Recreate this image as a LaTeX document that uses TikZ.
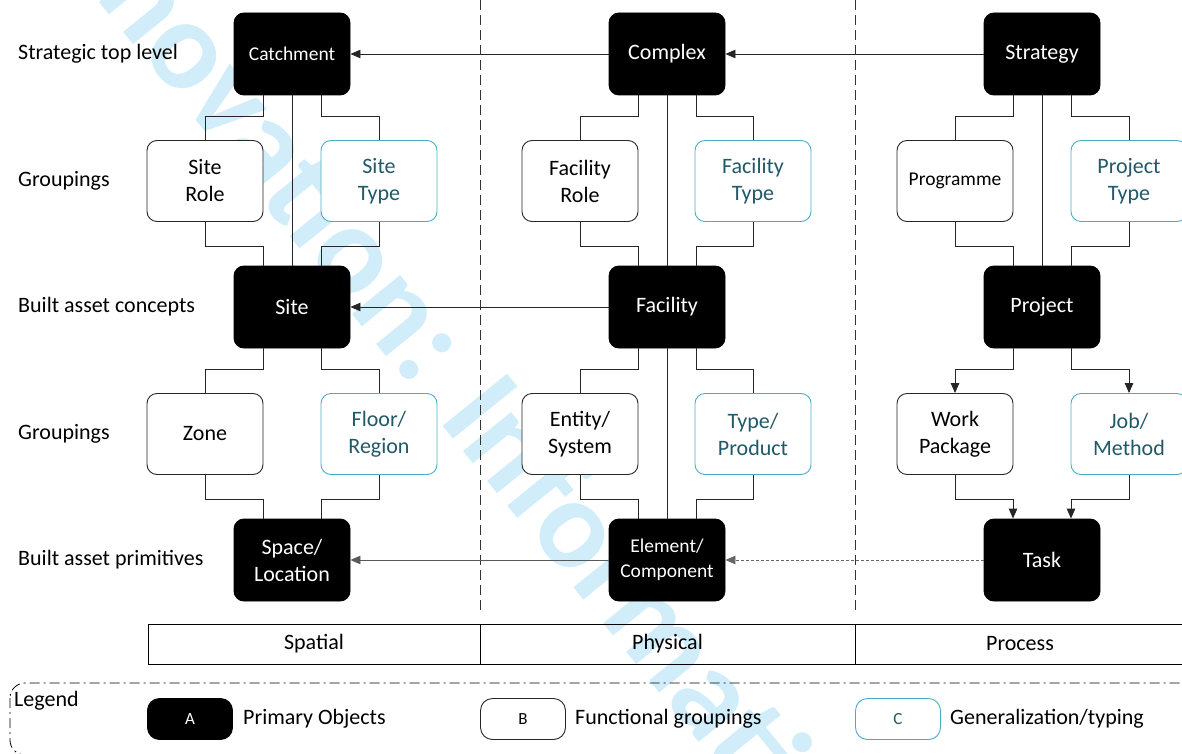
\documentclass[tikz,border=0pt]{standalone}
\usepackage{fontspec}
\setmainfont{Carlito}
\usetikzlibrary{arrows.meta}
\definecolor{genline}{RGB}{75,172,198}
\definecolor{gentext}{RGB}{33,89,104}
\definecolor{wmark}{RGB}{209,237,250}
\definecolor{conn}{RGB}{38,38,38}

\begin{document}
\begin{tikzpicture}[x=1pt, y=-1pt,
  font=\fontsize{22}{27}\selectfont,
  prim/.style={draw=black, fill=black, text=white, line width=0.9pt, rounded corners=10pt, minimum width=116pt, minimum height=82pt, align=center, inner sep=1pt},
  grp/.style={draw=black!85, fill=white, line width=0.9pt, rounded corners=10pt, minimum width=116pt, minimum height=81pt, align=center, inner sep=1pt},
  gen/.style={grp, draw=genline, text=gentext},
  small/.style={font=\fontsize{19.5}{25}\selectfont},
  legkey/.style={minimum width=85pt, minimum height=41pt, rounded corners=12pt, font=\fontsize{17}{20}\selectfont},
  row/.style={anchor=west, inner sep=0pt},
  cell/.style={draw=black, line width=0.9pt, minimum height=40pt, inner sep=0pt},
  link/.style={draw=conn, line width=0.9pt},
  arr/.style={link, -{Triangle[length=10pt, width=8.5pt]}},
  sep/.style={draw=black!80, line width=0.9pt, dash pattern=on 10pt off 5pt},
]
\useasboundingbox (0,0) rectangle (1182,754);
\clip (0,0) rectangle (1182,754);

% watermark
\node[text=wmark, font=\fontsize{128}{128}\selectfont\bfseries, rotate=-51, anchor=base west, inner sep=0pt] (wm) at (30,-84) {Innovation: Information};

% column separators
\draw[sep] (480,0) -- (480,610);
\draw[sep] (855,0) -- (855,610);

% row labels
\node[row] (r1) at (18,54) {Strategic top level};
\node[row] (r2) at (18,181) {Groupings};
\node[row] (r3) at (18,307) {Built asset concepts};
\node[row] (r4) at (18,434) {Groupings};
\node[row] (r5) at (18,560) {Built asset primitives};

% top level
\node[prim, small] (catch) at (292,54) {Catchment};
\node[prim] (cplx) at (667,54) {Complex};
\node[prim] (strat) at (1042,54) {Strategy};

% groupings
\node[grp] (srole) at (205,181) {Site\\Role};
\node[gen] (stype) at (379,181) {Site\\Type};
\node[grp] (frole) at (580,181) {Facility\\Role};
\node[gen] (ftype) at (753,181) {Facility\\Type};
\node[grp, small] (prog) at (955,181) {Programme};
\node[gen] (ptype) at (1129,181) {Project\\Type};

% concepts
\node[prim] (site) at (292,307) {Site};
\node[prim] (fac) at (667,307) {Facility};
\node[prim] (proj) at (1042,307) {Project};

% groupings
\node[grp] (zone) at (205,434) {Zone};
\node[gen] (floor) at (379,434) {Floor/\\Region};
\node[grp] (ent) at (580,434) {Entity/\\System};
\node[gen] (tprod) at (753,434) {Type/\\Product};
\node[grp] (wpack) at (955,434) {Work\\Package};
\node[gen] (job) at (1129,434) {Job/\\Method};

% primitives
\node[prim] (space) at (292,560) {Space/\\Location};
\node[prim, small] (elem) at (667,560) {Element/\\Component};
\node[prim] (task) at (1042,560) {Task};

% bracket links
\foreach \t/\l/\r/\b in {catch/srole/stype/site, site/zone/floor/space, cplx/frole/ftype/fac, fac/ent/tprod/elem, strat/prog/ptype/proj}{
  \draw[link] ([xshift=-29pt]\t.south) -- ++(0,21) -| (\l.north);
  \draw[link] ([xshift=29pt]\t.south) -- ++(0,21) -| (\r.north);
  \draw[link] (\l.south) -- ++(0,24) -| ([xshift=-29pt]\b.north);
  \draw[link] (\r.south) -- ++(0,24) -| ([xshift=29pt]\b.north);
}
\draw[arr] ([xshift=-29pt]proj.south) -- ++(0,21) -| (wpack.north);
\draw[arr] ([xshift=29pt]proj.south) -- ++(0,21) -| (job.north);
\draw[arr] (wpack.south) -- ++(0,24) -| ([xshift=-29pt]task.north);
\draw[arr] (job.south) -- ++(0,24) -| ([xshift=29pt]task.north);

% straight links
\draw[link] (catch.south) -- (site.north);
\draw[link] (cplx.south) -- (fac.north);
\draw[link] (fac.south) -- (elem.north);
\draw[link] (strat.south) -- (proj.north);

% across columns
\draw[arr] (strat.west) -- (cplx.east);
\draw[arr] (cplx.west) -- (catch.east);
\draw[arr] (fac.west) -- (site.east);
\draw[arr, draw=black!65] (elem.west) -- (space.east);
\draw[arr, draw=black!60, dash pattern=on 3pt off 2pt] (task.west) -- (elem.east);

% column table
\node[cell, minimum width=332pt] (spatial) at (314,644) {Spatial};
\node[cell, minimum width=375pt] (physical) at (667.5,644) {Physical};
\node[cell, minimum width=330pt] (process) at (1020,644) {Process};

% legend
\draw[line width=0.8pt, dash pattern=on 10pt off 4pt on 2pt off 4pt, rounded corners=15pt] (10,683) rectangle (1200,755);
\node[anchor=base west, inner sep=0pt] (legend) at (14,706) {Legend};
\node[prim, legkey] (keya) at (190,719) {A};
\node[row] (texta) at (243,719) {Primary Objects};
\node[grp, legkey] (keyb) at (523,719) {B};
\node[row] (textb) at (575,719) {Functional groupings};
\node[gen, legkey] (keyc) at (898,719) {C};
\node[row] (textc) at (950,719) {Generalization/typing};
\end{tikzpicture}
\end{document}
